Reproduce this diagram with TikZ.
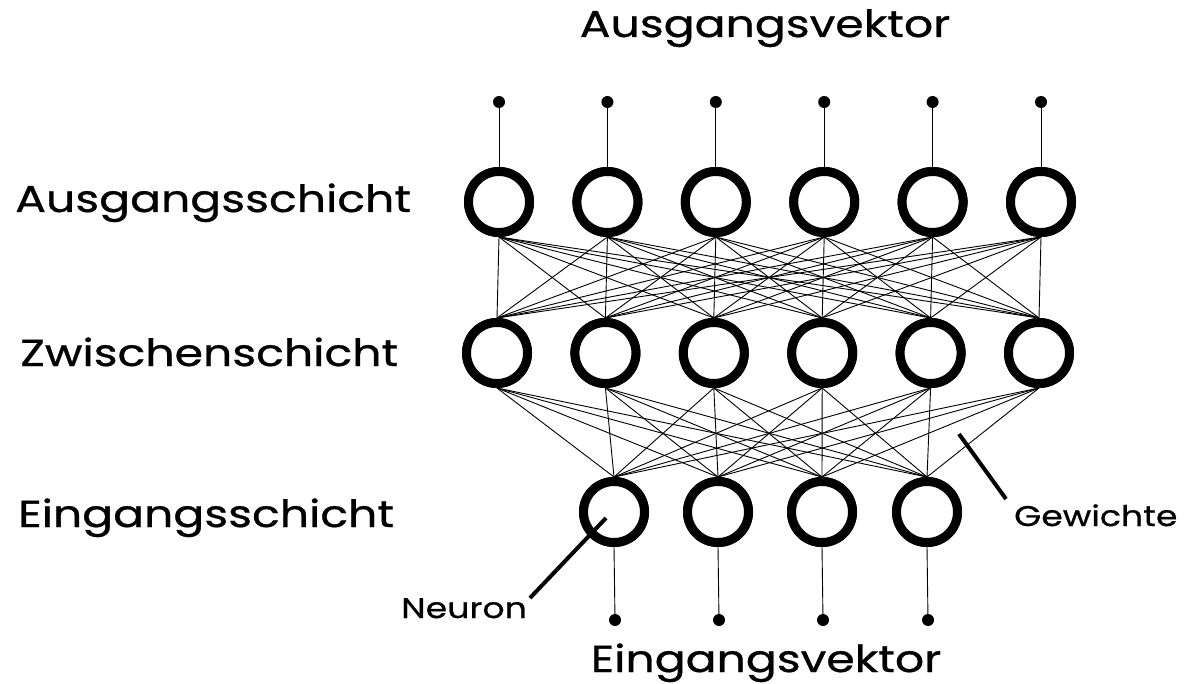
\documentclass[tikz,border=0pt]{standalone}
\usepackage{fontspec}
\setmainfont{Poppins}[FakeStretch=1.22,FakeBold=0.8]
\begin{document}
\begin{tikzpicture}[x=1pt,y=-1pt,
  neuron/.style={circle,draw=black,line width=9pt,fill=white,minimum size=61pt,inner sep=0pt},
  dotnode/.style={circle,fill=black,minimum size=12pt,inner sep=0pt},
  wire/.style={line width=0.9pt},
  pointer/.style={line width=4pt},
  biglabel/.style={font=\fontsize{37.5}{40}\selectfont,inner sep=0pt},
  smalllabel/.style={font=\fontsize{28.5}{32}\selectfont,inner sep=0pt}]
\useasboundingbox (0,0) rectangle (1190,684);
% nodes
\foreach \i in {0,...,5}{
  \node[neuron] (o\i) at ({499+108.4*\i},202) {};
  \node[neuron] (m\i) at ({497+108.4*\i},353) {};
  \node[dotnode] (t\i) at ({499+108.4*\i},102) {};
}
\foreach \i/\x in {0/614,1/718,2/822,3/927}{
  \node[neuron] (e\i) at (\x,512) {};
  \node[dotnode] (b\i) at (\x+1,620) {};
}
% connectors
\foreach \i in {0,...,5}{
  \draw[wire] (t\i) -- (o\i.north);
  \foreach \j in {0,...,5}{ \draw[wire] (o\i.south) -- (m\j.north); }
  \foreach \j in {0,...,3}{ \draw[wire] (m\i.south) -- (e\j.north); }
}
\foreach \j in {0,...,3}{ \draw[wire] (e\j.south) -- (b\j); }
% redraw circles on top
\foreach \i in {0,...,5}{
  \node[neuron] at (o\i) {};
  \node[neuron] at (m\i) {};
}
\foreach \i in {0,...,3}{ \node[neuron] at (e\i) {}; }
% labels
\node[biglabel,anchor=base] (av) at (765,37) {Ausgangsvektor};
\node[biglabel,anchor=base west] (as) at (15,212) {Ausgangsschicht};
\node[biglabel,anchor=base west] (zs) at (20,366) {Zwischenschicht};
\node[biglabel,anchor=base west] (es) at (18,527) {Eingangsschicht};
\node[biglabel,anchor=base] (ev) at (766,672) {Eingangsvektor};
\node[smalllabel,anchor=base west] (ne) at (401,618) {Neuron};
\node[smalllabel,anchor=base west] (ge) at (1014,526) {Gewichte};
% pointers
\coordinate (nA) at (530,598);
\coordinate (nB) at (606,518);
\coordinate (gA) at (1006,499);
\coordinate (gB) at (959,434);
\draw[pointer] (nA) -- (nB);
\draw[pointer] (gA) -- (gB);
\end{tikzpicture}
\end{document}
